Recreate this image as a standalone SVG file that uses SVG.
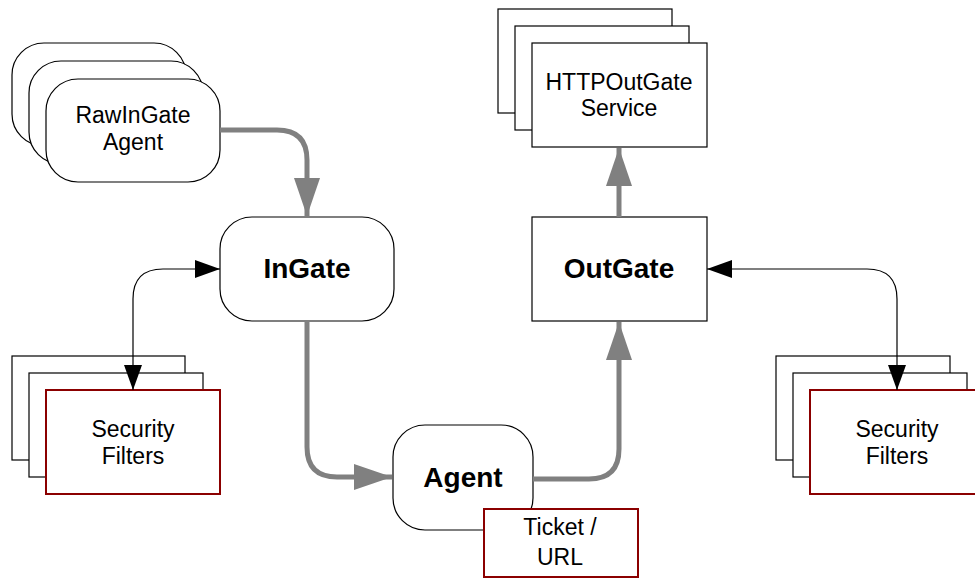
<svg xmlns="http://www.w3.org/2000/svg" width="975" height="579" viewBox="0 0 975 579">
  <style>
    .box { fill: #ffffff; stroke: #000000; stroke-width: 1.2; }
    .red { fill: #ffffff; stroke: #8b0000; stroke-width: 2; }
    .lbl { font-family: "Liberation Sans", Arial, sans-serif; font-size: 23px; fill: #000000; text-anchor: middle; }
    .big { font-family: "Liberation Sans", Arial, sans-serif; font-size: 28px; font-weight: bold; fill: #000000; text-anchor: middle; }
    .flow { fill: none; stroke: #808080; stroke-width: 5; }
    .link { fill: none; stroke: #000000; stroke-width: 1.2; }
  </style>
  <defs>
    <marker id="grayHead" markerUnits="userSpaceOnUse" markerWidth="38" markerHeight="26" refX="38" refY="13" viewBox="0 0 38 26" orient="auto">
      <path d="M0,0 L38,13 L0,26 Z" fill="#808080"/>
    </marker>
    <marker id="blackHead" markerUnits="userSpaceOnUse" markerWidth="25" markerHeight="18" refX="25" refY="9" viewBox="0 0 25 18" orient="auto">
      <path d="M0,0 L25,9 L0,18 Z" fill="#000000"/>
    </marker>
    <marker id="blackTail" markerUnits="userSpaceOnUse" markerWidth="25" markerHeight="18" refX="25" refY="9" viewBox="0 0 25 18" orient="auto-start-reverse">
      <path d="M0,0 L25,9 L0,18 Z" fill="#000000"/>
    </marker>
  </defs>

  <!-- RawInGate Agent (stacked) -->
  <g id="rawingate">
    <rect class="box" x="12" y="43" width="174" height="103" rx="32" ry="32"/>
    <rect class="box" x="29" y="61" width="174" height="103" rx="32" ry="32"/>
    <rect class="box" x="46" y="79" width="174" height="103" rx="32" ry="32"/>
    <text class="lbl" x="133" y="123">RawInGate</text>
    <text class="lbl" x="133" y="150">Agent</text>
  </g>

  <!-- HTTPOutGate Service (stacked) -->
  <g id="httpoutgate">
    <rect class="box" x="498" y="9" width="174" height="104"/>
    <rect class="box" x="515" y="26" width="174" height="104"/>
    <rect class="box" x="532" y="43" width="175" height="104"/>
    <text class="lbl" x="619" y="90">HTTPOutGate</text>
    <text class="lbl" x="619" y="116">Service</text>
  </g>

  <!-- InGate -->
  <g id="ingate">
    <rect class="box" x="220" y="217" width="174" height="104" rx="32" ry="32"/>
    <text class="big" x="307" y="278">InGate</text>
  </g>

  <!-- OutGate -->
  <g id="outgate">
    <rect class="box" x="532" y="217" width="175" height="104"/>
    <text class="big" x="619" y="278">OutGate</text>
  </g>

  <!-- Security Filters, left -->
  <g id="filters-left">
    <rect class="box" x="12" y="356" width="173" height="104"/>
    <rect class="box" x="29" y="373" width="174" height="104"/>
    <rect class="red" x="46" y="390" width="174" height="104"/>
    <text class="lbl" x="133" y="437">Security</text>
    <text class="lbl" x="133" y="464">Filters</text>
  </g>

  <!-- Security Filters, right -->
  <g id="filters-right">
    <rect class="box" x="776" y="356" width="174" height="104"/>
    <rect class="box" x="793" y="373" width="174" height="104"/>
    <rect class="red" x="810" y="390" width="174" height="104"/>
    <text class="lbl" x="897" y="437">Security</text>
    <text class="lbl" x="897" y="464">Filters</text>
  </g>

  <!-- Agent -->
  <g id="agent">
    <rect class="box" x="393" y="425" width="140" height="105" rx="32" ry="32"/>
    <text class="big" x="463" y="487">Agent</text>
  </g>

  <!-- Ticket / URL -->
  <g id="ticket">
    <rect class="red" x="484" y="509" width="154" height="68"/>
    <text class="lbl" x="560" y="535">Ticket /</text>
    <text class="lbl" x="560" y="565">URL</text>
  </g>

  <!-- connectors -->
  <g id="connectors">
    <path class="flow" d="M220,130 H277 Q307,130 307,160 V216" marker-end="url(#grayHead)"/>
    <path class="flow" d="M307,321 V447 Q307,477 337,477 H392" marker-end="url(#grayHead)"/>
    <path class="flow" d="M533,479 H589 Q619,479 619,449 V322" marker-end="url(#grayHead)"/>
    <path class="flow" d="M619,217 V148" marker-end="url(#grayHead)"/>
    <path class="link" d="M220,269 H163 Q133,269 133,299 V390" marker-start="url(#blackTail)" marker-end="url(#blackHead)"/>
    <path class="link" d="M707,269 H867 Q897,269 897,299 V390" marker-start="url(#blackTail)" marker-end="url(#blackHead)"/>
  </g>
</svg>
